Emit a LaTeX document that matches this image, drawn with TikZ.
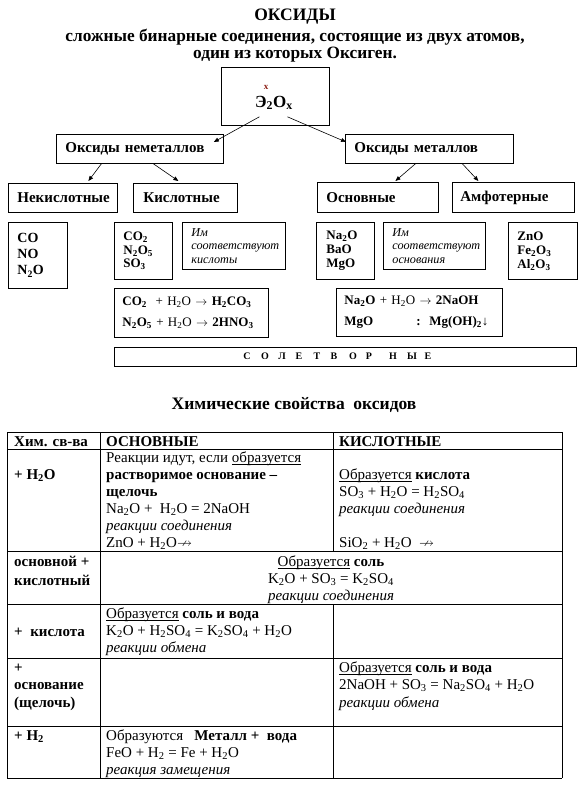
\documentclass[tikz,border=0pt]{standalone}
\usepackage{amssymb}
\usepackage{fontspec}
\setmainfont{Liberation Serif}
\usetikzlibrary{arrows.meta}
\definecolor{markred}{RGB}{140,30,20}
\newcommand{\sbs}[1]{\textsubscript{#1}}
\newcommand{\undl}[1]{\underline{\smash{#1}}}
\begin{document}
\begin{tikzpicture}
[x=1pt,y=-1pt,
  boxdecorate/.style={draw,line width=0.8pt,anchor=north west,inner xsep=9pt,inner ysep=0pt,align=left,font=\bfseries\fontsize{15}{17}\selectfont},%
  arrowdecorate/.style={-{Triangle[length=5pt,width=4pt]},line width=0.6pt},%
  celldecorate/.style={anchor=base west,inner sep=0pt,font=\fontsize{15}{17}\selectfont},%
  boldcell/.style={celldecorate,font=\bfseries\fontsize{15}{17}\selectfont},%
  itcell/.style={celldecorate,font=\itshape\fontsize{15}{17}\selectfont},%
  ruledecorate/.style={line width=0.8pt}]
\useasboundingbox (0,0) rectangle (582,790);
%% heading
\node (title) at (295,17) {\bfseries\fontsize{17.5}{19}\selectfont ОКСИДЫ};
\node (def1) at (295,37) {\bfseries\fontsize{17.3}{19}\selectfont сложные бинарные соединения, состоящие из двух атомов,};
\node (def2) at (295,55) {\bfseries\fontsize{17.3}{19}\selectfont один из которых Оксиген.};
%% scheme boxes
\node (top) [draw,line width=0.8pt,anchor=north west,minimum width=108pt,minimum height=58pt] at (221,67) {};
\node (formula) at (274,103) {\bfseries\fontsize{17}{19}\selectfont Э\sbs{2}О\sbs{x}};
\node (xmark) [text=markred] at (266,87) {\bfseries\fontsize{9}{10}\selectfont x};
\node (nonmet) [boxdecorate,text width=149pt,minimum height=29pt] at (56,134) {Оксиды неметаллов};
\node (met) [boxdecorate,text width=150pt,minimum height=29pt] at (345,134) {Оксиды металлов};
\node (nekisl) [boxdecorate,text width=91pt,minimum height=29pt] at (8,183) {Некислотные};
\node (kisl) [boxdecorate,text width=84pt,minimum height=29pt,inner xsep=10pt] at (133,183) {Кислотные};
\node (osn) [boxdecorate,text width=103pt,minimum height=30pt] at (317,182) {Основные};
\node (amf) [boxdecorate,text width=106pt,minimum height=30pt,inner xsep=8pt] at (452,182) {Амфотерные};
%% formulas
\node (co) [boxdecorate,text width=41pt,minimum height=66pt,font=\bfseries\fontsize{14}{16}\selectfont] at (8,222) {CO\\NO\\N\sbs{2}O};
\node (co2) [boxdecorate,text width=40pt,minimum height=57pt,font=\bfseries\fontsize{13}{13.5}\selectfont] at (114,222) {CO\sbs{2}\\N\sbs{2}O\sbs{5}\\SO\sbs{3}};
\node (imk) [boxdecorate,text width=85pt,minimum height=47pt,font=\itshape\fontsize{12.2}{13.5}\selectfont] at (182,222) {Им\\соответствуют\\кислоты};
\node (nao) [boxdecorate,text width=38pt,minimum height=57pt,inner xsep=10pt,font=\bfseries\fontsize{13}{14}\selectfont] at (316,222) {Na\sbs{2}O\\BaO\\MgO};
\node (imo) [boxdecorate,text width=84pt,minimum height=47pt,font=\itshape\fontsize{12.2}{13.5}\selectfont] at (383,222) {Им\\соответствуют\\основания};
\node (zno) [boxdecorate,text width=51pt,minimum height=57pt,font=\bfseries\fontsize{13}{14}\selectfont] at (508,222) {ZnO\\Fe\sbs{2}O\sbs{3}\\Al\sbs{2}O\sbs{3}};
\node (eqk) [boxdecorate,text width=138pt,minimum height=49pt,inner xsep=8pt,font=\fontsize{13}{21}\selectfont] at (114,288)
  {\textbf{CO\sbs{2}}\ \ + H\sbs{2}O $\rightarrow$ \textbf{H\sbs{2}CO\sbs{3}}\\\textbf{N\sbs{2}O\sbs{5}} + H\sbs{2}O $\rightarrow$ \textbf{2HNO\sbs{3}}};
\node (eqo) [boxdecorate,text width=150pt,minimum height=48pt,inner xsep=8pt,font=\fontsize{13}{21}\selectfont] at (336,288)
  {\textbf{Na\sbs{2}O} + H\sbs{2}O $\rightarrow$ \textbf{2NaOH}\\\textbf{MgO}\hspace{43pt}\textbf{:\ \ Mg(OH)\sbs{2}↓}};
\node (solet) [draw,line width=0.8pt,anchor=north west,minimum width=462pt,minimum height=19pt] at (114,347) {};
\foreach \letter/\x in {С/247, О/265, Л/282, Е/299, Т/317, В/334, О/353, Р/369, Н/393, Ы/412, Е/428}
{
  \node (sl\x) at (\x,356) {\bfseries\fontsize{10}{12}\selectfont \letter};
}
%% arrows
\draw[arrowdecorate] ([shift={(-16,-9)}]top.south) -- ([shift={(-10,8)}]nonmet.north east);
\draw[arrowdecorate] ([shift={(12,-9)}]top.south) -- ([shift={(1,8)}]met.north west);
\draw[arrowdecorate] ([shift={(-38.5,0)}]nonmet.south) -- ([shift={(25.5,-2)}]nekisl.north);
\draw[arrowdecorate] ([shift={(13.5,0)}]nonmet.south) -- ([shift={(-7,-2)}]kisl.north);
\draw[arrowdecorate] ([shift={(-14,0)}]met.south) -- ([shift={(17.5,-1)}]osn.north);
\draw[arrowdecorate] ([shift={(33,0)}]met.south) -- ([shift={(-35,-1)}]amf.north);
%% table
\node (chem) at (294,405) {\bfseries\fontsize{17.5}{19}\selectfont Химические свойства\ \ оксидов};
\foreach \y in {432,449,551,604,658,726,778}
{
  \draw[ruledecorate] (7,\y) -- (562,\y);
}
\draw[ruledecorate] (7,432) -- (7,778) (100,432) -- (100,778) (562,432) -- (562,778);
\draw[ruledecorate] (333,432) -- (333,551) (333,604) -- (333,778);
\node (head1) [boldcell] at (14,446) {Хим. св-ва};
\node (head2) [boldcell] at (106,446) {ОСНОВНЫЕ};
\node (head3) [boldcell] at (339,446) {КИСЛОТНЫЕ};
%% + H2O
\node (water) [boldcell] at (14,479) {+ H\sbs{2}O};
\node (wb1) [celldecorate] at (106,462) {Реакции идут, если \undl{образуется}};
\node (wb2) [boldcell] at (106,479) {растворимое основание –};
\node (wb3) [boldcell] at (106,496) {щелочь};
\node (wb4) [celldecorate] at (106,513) {Na\sbs{2}O +\ \ H\sbs{2}O = 2NaOH};
\node (wb5) [itcell] at (106,530) {реакции соединения};
\node (wb6) [celldecorate] at (106,547) {ZnO + H\sbs{2}O$\nrightarrow$};
\node (wa1) [celldecorate] at (339,479) {\undl{Образуется} \textbf{кислота}};
\node (wa2) [celldecorate] at (339,496) {SO\sbs{3} + H\sbs{2}O = H\sbs{2}SO\sbs{4}};
\node (wa3) [itcell] at (339,513) {реакции соединения};
\node (wa4) [celldecorate] at (339,547) {SiO\sbs{2} + H\sbs{2}O\ \ $\nrightarrow$};
%% basic + acidic
\node (mix1) [boldcell] at (14,566) {основной +};
\node (mix2) [boldcell] at (14,585) {кислотный};
\node (mx1) [celldecorate,anchor=base] at (331,566) {\undl{Образуется} \textbf{соль}};
\node (mx2) [celldecorate,anchor=base] at (331,583) {K\sbs{2}O + SO\sbs{3} = K\sbs{2}SO\sbs{4}};
\node (mx3) [itcell,anchor=base] at (331,600) {реакции соединения};
%% + acid
\node (acid) [boldcell] at (14,636) {+\ \ кислота};
\node (ab1) [celldecorate] at (106,618) {\undl{Образуется} \textbf{соль и вода}};
\node (ab2) [celldecorate] at (106,635) {K\sbs{2}O + H\sbs{2}SO\sbs{4} = K\sbs{2}SO\sbs{4} + H\sbs{2}O};
\node (ab3) [itcell] at (106,652) {реакции обмена};
%% + base
\node (base1) [boldcell] at (14,672) {+};
\node (base2) [boldcell] at (14,689) {основание};
\node (base3) [boldcell] at (14,707) {(щелочь)};
\node (ba1) [celldecorate] at (339,672) {\undl{Образуется} \textbf{соль и вода}};
\node (ba2) [celldecorate] at (339,689) {2NaOH + SO\sbs{3} = Na\sbs{2}SO\sbs{4} + H\sbs{2}O};
\node (ba3) [itcell] at (339,707) {реакции обмена};
%% + H2
\node (hydro) [boldcell] at (14,740) {+ H\sbs{2}};
\node (hb1) [celldecorate] at (106,740) {Образуются\ \ \ \textbf{Металл +\ \ вода}};
\node (hb2) [celldecorate] at (106,757) {FeO + H\sbs{2} = Fe + H\sbs{2}O};
\node (hb3) [itcell] at (106,774) {реакция замещения};
\end{tikzpicture}
\end{document}
